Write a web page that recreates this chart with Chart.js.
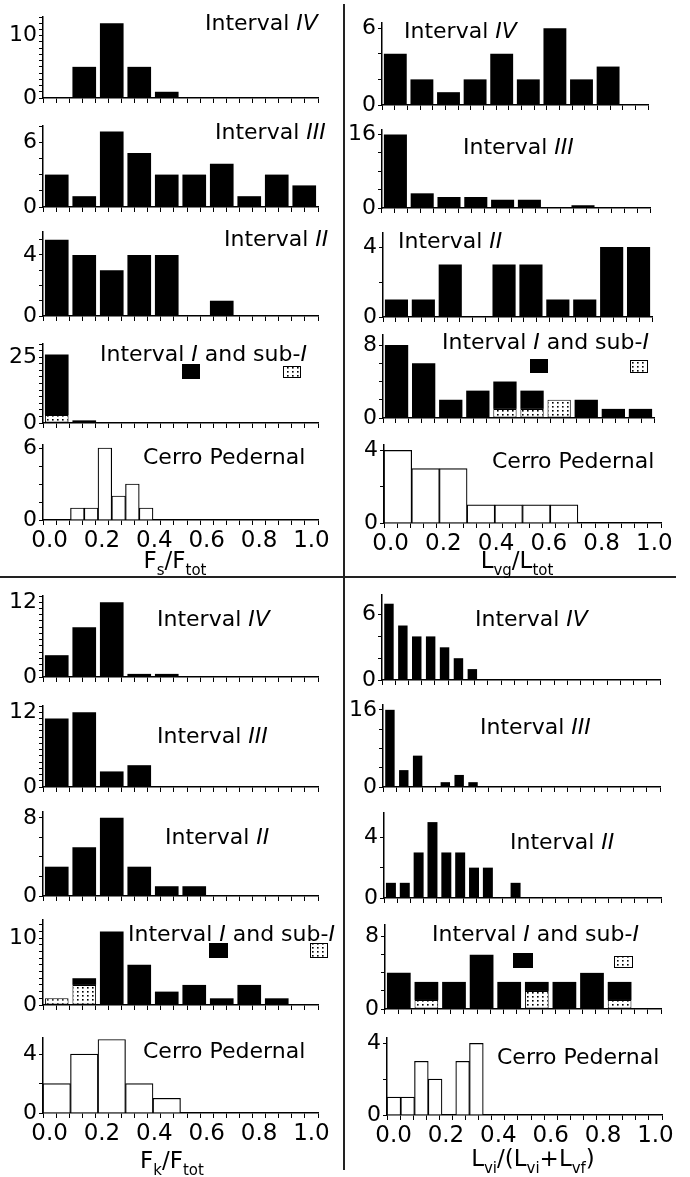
<!DOCTYPE html>
<html lang="en">
<head>
<meta charset="UTF-8">
<title>Histograms</title>
<script src="https://cdn.jsdelivr.net/npm/chart.js"></script>
<style>
  body { margin: 0; background: #fff; }
  #fig { position: relative; width: 690px; height: 1177px; overflow: hidden; background: #fff; }
  #fig canvas { position: absolute; }
  .vline { position: absolute; left: 343px; top: 4px; width: 1.6px; height: 1166px; background: #222; }
  .hline { position: absolute; left: 0; top: 576px; width: 676px; height: 1.5px; background: #222; }
</style>
</head>
<body>
<div id="fig"><div class="vline"></div><div class="hline"></div></div>
<script>
// bins (categories)
const bins10 = ['0.0-0.1','0.1-0.2','0.2-0.3','0.3-0.4','0.4-0.5','0.5-0.6','0.6-0.7','0.7-0.8','0.8-0.9','0.9-1.0'];
const bins20 = ['0.00-0.05','0.05-0.10','0.10-0.15','0.15-0.20','0.20-0.25','0.25-0.30','0.30-0.35','0.35-0.40','0.40-0.45','0.45-0.50',
                '0.50-0.55','0.55-0.60','0.60-0.65','0.65-0.70','0.70-0.75','0.75-0.80','0.80-0.85','0.85-0.90','0.90-0.95','0.95-1.00'];
const xTickLabels = ['0.0','0.2','0.4','0.6','0.8','1.0'];

// Fs/Ftot
const fsIV  = [0, 5, 12, 5, 1, 0, 0, 0, 0, 0];
const fsIII = [3, 1, 7, 5, 3, 3, 4, 1, 3, 2];
const fsII  = [5, 4, 3, 4, 4, 0, 1, 0, 0, 0];
const fsI   = [23, 1, 0, 0, 0, 0, 0, 0, 0, 0];
const fsSubI = [3, 0, 0, 0, 0, 0, 0, 0, 0, 0];
const fsCP  = [0, 0, 1, 1, 6, 2, 3, 1, 0, 0, 0, 0, 0, 0, 0, 0, 0, 0, 0, 0];

// Lvg/Ltot
const lvgIV  = [4, 2, 1, 2, 4, 2, 6, 2, 3, 0];
const lvgIII = [16, 3.2, 2.4, 2.4, 1.8, 1.8, 0, 0.6, 0, 0];
const lvgII  = [1, 1, 3, 0, 3, 3, 1, 1, 4, 4];
const lvgI   = [8, 6, 2, 3, 3, 2, 0, 2, 1, 1];
const lvgSubI = [0, 0, 0, 0, 1, 1, 2, 0, 0, 0];
const lvgCP  = [4, 3, 3, 1, 1, 1, 1, 0, 0, 0];

// Fk/Ftot
const fkIV  = [3.5, 8, 12, 0.5, 0.5, 0, 0, 0, 0, 0];
const fkIII = [11, 12, 2.5, 3.5, 0, 0, 0, 0, 0, 0];
const fkII  = [3, 5, 8, 3, 1, 1, 0, 0, 0, 0];
const fkI   = [0, 1, 11, 6, 2, 3, 1, 3, 1, 0];
const fkSubI = [1, 3, 0, 0, 0, 0, 0, 0, 0, 0];
const fkCP  = [2, 4, 5, 2, 1, 0, 0, 0, 0, 0];

// Lvi/(Lvi+Lvf)
const lviIV  = [7, 5, 4, 4, 3, 2, 1, 0, 0, 0, 0, 0, 0, 0, 0, 0, 0, 0, 0, 0];
const lviIII = [16, 3.5, 6.5, 0, 1, 2.5, 1, 0, 0, 0, 0, 0, 0, 0, 0, 0, 0, 0, 0, 0];
const lviII  = [1, 1, 3, 5, 3, 3, 2, 2, 0, 1, 0, 0, 0, 0, 0, 0, 0, 0, 0, 0];
const lviI   = [4, 2, 3, 6, 3, 1, 3, 4, 2, 0];
const lviSubI = [0, 1, 0, 0, 0, 2, 0, 0, 1, 0];
const lviCP  = [1, 1, 3, 2, 0, 3, 4, 0, 0, 0, 0, 0, 0, 0, 0, 0, 0, 0, 0, 0];

const tIV  = [['Interval ', false], ['IV', true]];
const tIII = [['Interval ', false], ['III', true]];
const tII  = [['Interval ', false], ['II', true]];
const tI   = [['Interval ', false], ['I', true], [' and sub-', false], ['I', true]];
const tCP  = [['Cerro Pedernal', false]];

const FONT = '"DejaVu Sans", Arial, sans-serif';
const PAD_TOP = 30;

// dotted fill for sub-I
function dotPattern(ctx) {
  const c = document.createElement('canvas');
  c.width = 5; c.height = 4;
  const g = c.getContext('2d');
  g.fillStyle = '#fff'; g.fillRect(0, 0, 5, 4);
  g.fillStyle = '#000'; g.fillRect(2, 1, 1.6, 1.6);
  return ctx.createPattern(c, 'repeat');
}

// panel layout: axis box in page px, y range, titles
const panels = [
  { col: 0, x0: 43, x1: 318, top: 17,  zero: 98,  max: 13,   step: 1,   lab: 10, bins: bins10, kind: 'solid', vals: fsIV,  title: tIV,  tx: 205, ty: 24 },
  { col: 0, x0: 43, x1: 318, top: 126, zero: 207, max: 7.5,  step: 1.5, lab: 6,  bins: bins10, kind: 'solid', vals: fsIII, title: tIII, tx: 215, ty: 133 },
  { col: 0, x0: 43, x1: 318, top: 232, zero: 316, max: 5.5,  step: 1,   lab: 4,  bins: bins10, kind: 'solid', vals: fsII,  title: tII,  tx: 224, ty: 240 },
  { col: 0, x0: 43, x1: 318, top: 344, zero: 423, max: 30,   step: 2.5, lab: 25, bins: bins10, kind: 'stack', vals: fsI, sub: fsSubI, title: tI, tx: 100, ty: 355,
    keys: [[182, 364, 18, 15], [283, 366, 18, 12]] },
  { col: 0, x0: 43, x1: 318, top: 445, zero: 520, max: 6.25, step: 1.5, lab: 6,  bins: bins20, kind: 'open',  vals: fsCP,  title: tCP,  tx: 143, ty: 458,
    axisTitle: [['F', 0], ['s', 1], ['/F', 0], ['tot', 1]], ax: 175, ay: 568 },

  { col: 1, x0: 382, x1: 648, top: 23,  zero: 105, max: 6.4,  step: 2,   lab: 6,  bins: bins10, kind: 'solid', vals: lvgIV,  title: tIV,  tx: 404, ty: 32 },
  { col: 1, x0: 382, x1: 650, top: 130, zero: 208, max: 17,   step: 4,   lab: 16, bins: bins10, kind: 'solid', vals: lvgIII, title: tIII, tx: 463, ty: 148 },
  { col: 1, x0: 383, x1: 652, top: 233, zero: 317, max: 4.8,  step: 2,   lab: 4,  bins: bins10, kind: 'solid', vals: lvgII,  title: tII,  tx: 398, ty: 242 },
  { col: 1, x0: 383, x1: 654, top: 335, zero: 418, max: 9.1,  step: 2,   lab: 8,  bins: bins10, kind: 'stack', vals: lvgI, sub: lvgSubI, title: tI, tx: 442, ty: 343,
    keys: [[530, 359, 18, 14], [630, 360, 18, 13]] },
  { col: 1, x0: 384, x1: 661, top: 445, zero: 523, max: 4.3,  step: 2,   lab: 4,  bins: bins10, kind: 'open',  vals: lvgCP,  title: tCP,  tx: 492, ty: 462,
    axisTitle: [['L', 0], ['vg', 1], ['/L', 0], ['tot', 1]], ax: 517, ay: 568 },

  { col: 0, x0: 43, x1: 318, top: 596,  zero: 677,  max: 13,  step: 1, lab: 12, bins: bins10, kind: 'solid', vals: fkIV,  title: tIV,  tx: 157, ty: 620 },
  { col: 0, x0: 43, x1: 318, top: 706,  zero: 787,  max: 13,  step: 1, lab: 12, bins: bins10, kind: 'solid', vals: fkIII, title: tIII, tx: 157, ty: 737 },
  { col: 0, x0: 43, x1: 318, top: 812,  zero: 896,  max: 8.6, step: 2, lab: 8,  bins: bins10, kind: 'solid', vals: fkII,  title: tII,  tx: 165, ty: 838 },
  { col: 0, x0: 43, x1: 318, top: 920,  zero: 1005, max: 12.7, step: 1, lab: 10, bins: bins10, kind: 'stack', vals: fkI, sub: fkSubI, title: tI, tx: 128, ty: 935,
    keys: [[209, 943, 19, 15], [310, 943, 18, 15]] },
  { col: 0, x0: 43, x1: 318, top: 1038, zero: 1113, max: 5.1, step: 2, lab: 4,  bins: bins10, kind: 'open',  vals: fkCP,  title: tCP,  tx: 143, ty: 1052,
    axisTitle: [['F', 0], ['k', 1], ['/F', 0], ['tot', 1]], ax: 172, ay: 1168 },

  { col: 1, x0: 382, x1: 660, top: 595,  zero: 680,  max: 7.8, step: 2, lab: 6,  bins: bins20, kind: 'solid', vals: lviIV,  title: tIV,  tx: 475, ty: 620, bp: 0.68 },
  { col: 1, x0: 383, x1: 660, top: 705,  zero: 787,  max: 17,  step: 4, lab: 16, bins: bins20, kind: 'solid', vals: lviIII, title: tIII, tx: 480, ty: 728, bp: 0.68 },
  { col: 1, x0: 384, x1: 661, top: 813,  zero: 898,  max: 5.6, step: 2, lab: 4,  bins: bins20, kind: 'solid', vals: lviII,  title: tII,  tx: 510, ty: 843, bp: 0.72 },
  { col: 1, x0: 385, x1: 661, top: 925,  zero: 1009, max: 9.3, step: 2, lab: 8,  bins: bins10, kind: 'stack', vals: lviI, sub: lviSubI, title: tI, tx: 432, ty: 935,
    keys: [[513, 953, 20, 15], [614, 956, 19, 12]] },
  { col: 1, x0: 387, x1: 662, top: 1038, zero: 1115, max: 4.3, step: 2, lab: 4,  bins: bins20, kind: 'open',  vals: lviCP,  title: tCP,  tx: 497, ty: 1058,
    axisTitle: [['L', 0], ['vi', 1], ['/(L', 0], ['vi', 1], ['+L', 0], ['vf', 1], [')', 0]], ax: 533, ay: 1166 }
];

const overlay = {
  id: 'overlay',
  afterDraw(chart, args, opts) {
    const p = opts.panel;
    const ctx = chart.ctx;
    const ox = p.colLeft, oy = p.canvasTop;
    ctx.save();
    ctx.fillStyle = '#000';
    ctx.textAlign = 'left';
    ctx.textBaseline = 'middle';
    let x = p.tx - ox;
    for (const [txt, it] of p.title) {
      ctx.font = (it ? 'italic ' : '') + '22px ' + FONT;
      ctx.fillText(txt, x, p.ty - oy);
      x += ctx.measureText(txt).width;
    }
    if (p.keys) {
      const [b, d] = p.keys;
      ctx.fillRect(b[0] - ox, b[1] - oy, b[2], b[3]);
      ctx.fillStyle = opts.pattern;
      ctx.fillRect(d[0] - ox, d[1] - oy, d[2], d[3]);
      ctx.strokeStyle = '#000'; ctx.lineWidth = 1;
      ctx.strokeRect(d[0] - ox + 0.5, d[1] - oy + 0.5, d[2] - 1, d[3] - 1);
    }
    if (p.axisTitle) {
      ctx.fillStyle = '#000';
      ctx.textBaseline = 'alphabetic';
      const fontOf = s => (s ? '15px ' : '23px ') + FONT;
      let w = 0;
      for (const [txt, s] of p.axisTitle) { ctx.font = fontOf(s); w += ctx.measureText(txt).width; }
      let ax = p.ax - ox - w / 2;
      for (const [txt, s] of p.axisTitle) {
        ctx.font = fontOf(s);
        ctx.fillText(txt, ax, p.ay - oy + (s ? 7 : 0));
        ax += ctx.measureText(txt).width;
      }
    }
    ctx.restore();
  }
};

// tick values at fixed steps from 0 up to the axis end
function stepTicks(end, step) {
  const out = [];
  for (let i = 0; i * step <= end + 1e-9; i++) out.push({ value: +(i * step).toFixed(4) });
  return out;
}

const fig = document.getElementById('fig');

panels.forEach(p => {
  p.colLeft = p.col ? 345 : 0;
  p.canvasTop = p.top - PAD_TOP;
  const bottomH = p.axisTitle ? 70 : 16;
  const cv = document.createElement('canvas');
  cv.width = 345;
  cv.height = PAD_TOP + (p.zero - p.top) + bottomH;
  cv.style.left = p.colLeft + 'px';
  cv.style.top = p.canvasTop + 'px';
  fig.appendChild(cv);
  const ctx = cv.getContext('2d');
  const pattern = dotPattern(ctx);

  const bp = p.bp || 0.86;
  let datasets;
  if (p.kind === 'open') {
    datasets = [{ data: p.vals, backgroundColor: '#fff', borderColor: '#000', borderWidth: 1.2,
                  borderSkipped: 'bottom', barPercentage: 1, categoryPercentage: 1 }];
  } else if (p.kind === 'stack') {
    datasets = [
      { data: p.sub, backgroundColor: pattern, borderColor: '#000', borderWidth: 1, borderSkipped: false,
        barPercentage: bp, categoryPercentage: 1 },
      { data: p.vals, backgroundColor: '#000', borderWidth: 0, barPercentage: bp, categoryPercentage: 1 }
    ];
  } else {
    datasets = [{ data: p.vals, backgroundColor: '#000', borderWidth: 0, barPercentage: bp, categoryPercentage: 1 }];
  }
  datasets.forEach(d => { d.xAxisID = 'x'; d.yAxisID = 'y'; });

  new Chart(cv, {
    type: 'bar',
    data: { labels: p.bins, datasets },
    options: {
      responsive: false,
      animation: false,
      layout: { padding: { top: PAD_TOP, right: p.colLeft + 345 - p.x1, left: 0, bottom: 0 } },
      plugins: {
        legend: { display: false },
        tooltip: { enabled: false },
        overlay: { panel: p, pattern }
      },
      scales: {
        x: { type: 'category', display: false, offset: true, stacked: true },
        xv: {
          type: 'linear', axis: 'x', position: 'bottom', min: 0, max: 1,
          afterBuildTicks: s => { s.ticks = stepTicks(1, 0.05); },
          ticks: {
            autoSkip: false, maxRotation: 0, color: '#000', padding: 2,
            font: { family: FONT, size: 23 },
            callback: v => {
              if (!p.axisTitle) return '';
              const k = Math.round(v * 20);
              return k % 4 === 0 ? xTickLabels[k / 4] : '';
            }
          },
          grid: { drawOnChartArea: false, drawTicks: true, tickLength: 5, color: '#000', lineWidth: 1 },
          border: { display: true, color: '#000', width: 1.5 },
          afterFit: s => { s.height = bottomH; }
        },
        y: {
          min: 0, max: p.max, stacked: true,
          afterBuildTicks: s => { s.ticks = stepTicks(p.max, p.step); },
          ticks: {
            autoSkip: false, color: '#000', padding: 2,
            font: { family: FONT, size: 22 },
            callback: v => (Math.abs(v) < 1e-9 || Math.abs(v - p.lab) < 1e-9) ? String(v) : ''
          },
          grid: { drawOnChartArea: false, drawTicks: true, tickLength: 4, color: '#000', lineWidth: 1 },
          border: { display: true, color: '#000', width: 1.5 },
          afterFit: s => { s.width = p.x0 - p.colLeft; }
        }
      }
    },
    plugins: [overlay]
  });
});
</script>
</body>
</html>
